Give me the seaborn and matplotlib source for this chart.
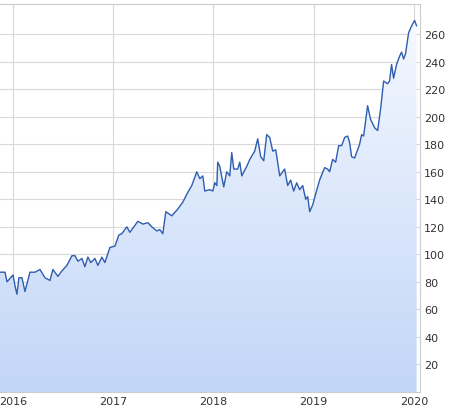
import numpy as np
import pandas as pd
import matplotlib
matplotlib.use("Agg")
import matplotlib.pyplot as plt
import seaborn as sns
from matplotlib.patches import Polygon

px = [0,5,7,13,15,17,19,22,25,30,35,40,45,50,53,58,62,67,72,75,78,82,85,88,91,95,98,102,105,110,115,119,122,127,130,135,138,143,148,152,157,160,163,166,172,178,183,188,192,197,200,203,205,210,213,215,217,218,220,224,227,230,232,234,238,240,242,247,250,255,258,261,264,267,270,273,276,280,285,288,291,294,297,300,303,306,308,310,313,316,320,325,328,330,333,336,339,342,345,348,350,352,355,357,360,362,364,368,371,375,378,381,384,388,390,392,394,397,400,402,404,406,409,412,415,417]
values = [87,87,80,85,77,71,83,83,73,87,87,89,83,81,89,84,88,92,99,99,95,97,91,98,94,97,92,98,94,105,106,114,115,120,116,121,124,122,123,120,117,118,115,131,128,133,138,145,150,160,155,157,146,147,146,152,150,167,164,149,160,157,174,162,162,167,157,164,169,175,184,171,168,187,185,175,176,157,162,150,154,146,152,147,150,140,142,131,136,144,154,163,162,160,169,167,179,179,185,186,181,171,170,174,180,187,186,208,198,192,190,206,226,224,226,238,228,238,244,247,242,246,261,266,270,266]
years = [round(2015.87 + p / 100.3, 3) for p in px]
year_ticks = [2016, 2017, 2018, 2019, 2020]
y_ticks = [20, 40, 60, 80, 100, 120, 140, 160, 180, 200, 220, 240, 260]

df = pd.DataFrame({"year": years, "price": values})

sns.set_style("white")
fig = plt.figure(figsize=(4.49, 4.14), dpi=100)
ax = fig.add_axes([0.0, 0.051, 0.935, 0.937])
ymax = 282
xmin, xmax = 2015.87, 2020.06

grad = np.linspace(0, 1, 256).reshape(-1, 1)
cmap = matplotlib.colors.LinearSegmentedColormap.from_list("g", ["#c2d6f8", "#f7faff"])
im = ax.imshow(grad, extent=[xmin, xmax, 0, ymax], origin="lower", aspect="auto", cmap=cmap, zorder=1)
poly = Polygon(list(zip(df.year, df.price)) + [(df.year.iloc[-1], 0), (df.year.iloc[0], 0)], closed=True, transform=ax.transData)
im.set_clip_path(poly)

sns.lineplot(data=df, x="year", y="price", ax=ax, color="#2f5db0", linewidth=1.0, zorder=3)

ax.set_xlim(xmin, xmax)
ax.set_ylim(0, ymax)
ax.set_xticks(year_ticks)
ax.set_xticklabels([str(y) for y in year_ticks])
ax.set_yticks(y_ticks)
ax.yaxis.tick_right()
ax.grid(True, color="#d8d8d8", linewidth=0.8, zorder=0)
ax.set_axisbelow(True)
for s in ax.spines.values():
    s.set_color("#cccccc")
    s.set_linewidth(0.8)
ax.spines["left"].set_visible(False)
ax.tick_params(axis="both", length=0, labelsize=8, colors="#333333", pad=3)
ax.set_xlabel("")
ax.set_ylabel("")
fig.savefig("out.png", dpi=100)
